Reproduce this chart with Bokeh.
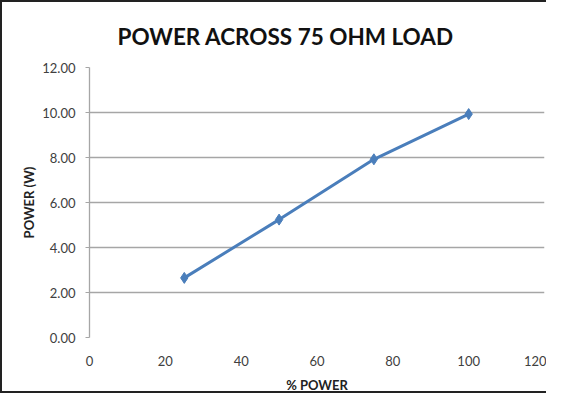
from bokeh.plotting import figure
from bokeh.embed import file_html
from bokeh.resources import INLINE
from bokeh.models import FixedTicker, NumeralTickFormatter

# data
pct_power = [25, 50, 75, 100]
power_w = [2.65, 5.24, 7.92, 9.93]
x_ticks = [0, 20, 40, 60, 80, 100, 120]
y_ticks = [0, 2, 4, 6, 8, 10, 12]
title_text = "POWER ACROSS 75 OHM LOAD"
x_label = "% POWER"
y_label = "POWER (W)"

FONT = "Lato"
LINE = "#4a7ebb"
GRID = "#a6a6a6"
TXT = "#404040"

p = figure(width=546, height=393, x_range=(0, 120), y_range=(0, 12),
           output_backend="svg", toolbar_location=None,
           min_border_left=87, min_border_right=4, min_border_top=65, min_border_bottom=53)

p.styles = {"border-left": "2px solid #222", "border-top": "2px solid #222",
            "border-bottom": "2px solid #222"}

p.title.text = title_text
p.title.text_font = FONT
p.title.text_font_size = "22.5px"
p.title.text_font_style = "bold"
p.title.text_color = "#111111"
p.title.align = "left"
p.title.offset = 28
p.title.standoff = 36

p.outline_line_color = None
p.background_fill_color = "white"
p.border_fill_color = "white"

# grid
p.xgrid.grid_line_color = None
p.ygrid.grid_line_color = GRID
p.ygrid.grid_line_width = 1.3
p.ygrid.ticker = FixedTicker(ticks=y_ticks)

# axes
p.xaxis.ticker = FixedTicker(ticks=x_ticks)
p.yaxis.ticker = FixedTicker(ticks=y_ticks)
p.yaxis.formatter = NumeralTickFormatter(format="0.00")
for ax in (p.xaxis[0], p.yaxis[0]):
    ax.major_label_text_font = FONT
    ax.major_label_text_font_size = "13px"
    ax.major_label_text_color = TXT
    ax.axis_label_text_font = FONT
    ax.axis_label_text_font_style = "bold"
    ax.axis_label_text_font_size = "13px"
    ax.axis_label_text_color = "#222222"
    ax.minor_tick_line_color = None
    ax.axis_line_color = GRID
    ax.axis_line_width = 1.3

p.xaxis.axis_label = x_label
p.xaxis.major_tick_line_color = None
p.xaxis.major_label_standoff = 12
p.xaxis.axis_label_standoff = 8
p.xaxis.axis_line_color = None

p.yaxis.axis_label = y_label
p.yaxis.major_tick_line_color = GRID
p.yaxis.major_tick_out = 4
p.yaxis.major_tick_in = 0
p.yaxis.major_label_standoff = 10
p.yaxis.axis_label_standoff = 2

p.line(pct_power, power_w, line_color=LINE, line_width=3)
p.scatter(pct_power, power_w, marker="diamond", size=11, fill_color=LINE, line_color=LINE)

open("out.html", "w").write(file_html(p, INLINE))
